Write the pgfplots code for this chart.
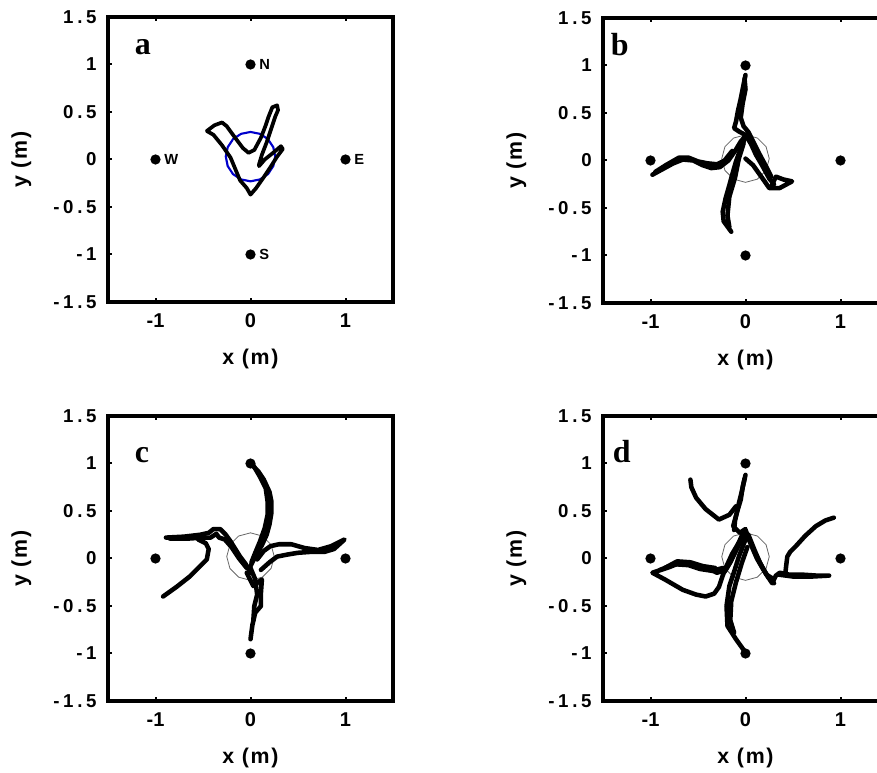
\documentclass[border=0pt]{standalone}
\usepackage{pgfplots}
\pgfplotsset{compat=1.18}
\usepackage{fontspec}
\setmainfont{Liberation Sans}
\newfontfamily\seriffont{Liberation Serif}
\newfontfamily\yfont[LetterSpace=20]{Liberation Sans}
\newfontfamily\lfont[LetterSpace=8]{Liberation Sans}
\pgfplotsset{
  panel/.style={
    scale only axis, width=213.75pt, height=213.75pt,
    xmin=-1.5, xmax=1.5, ymin=-1.5, ymax=1.5,
    xtick={-1,0,1}, ytick={-1.5,-1,-0.5,0,0.5,1,1.5},
    xtick pos=both, xticklabel pos=lower, ytick pos=left,
    tick align=inside, major tick length=3pt,
    tick style={black, line width=1.5pt},
    axis line style={black, line width=2.5pt},
    /pgf/number format/assume math mode=true,
    xticklabel style={font=\bfseries\fontsize{15}{17}\selectfont, yshift=-5pt},
    yticklabel style={font=\yfont\bfseries\fontsize{14}{15}\selectfont, xshift=-5pt},
    label style={font=\lfont\bfseries\fontsize{16}{18}\selectfont},
    xlabel={x (m)}, ylabel={y (m)},
    xlabel style={at={(axis description cs:0.5,-0.2)}, anchor=center},
    ylabel style={at={(axis description cs:-0.304,0.5)}, anchor=center},
    clip=false,
  },
  traj/.style={black, line width=3.4pt, line join=round, line cap=round},
  ring/.style={gray!80!black, line width=0.6pt},
}
\tikzset{
  letter/.style={font=\seriffont\bfseries\fontsize{24}{24}\selectfont, anchor=base west, inner sep=0pt},
  dirl/.style={font=\bfseries\fontsize{11}{12}\selectfont, anchor=west, inner sep=0pt},
}
\begin{document}
\begin{tikzpicture}
\useasboundingbox (0,0) rectangle (657.75pt,579.75pt);
\clip (0,0) rectangle (657.75pt,579.75pt);
% ---------------- panel a ----------------
\begin{axis}[panel, at={(81pt,353.25pt)}, anchor=south west]
\addplot[blue!80!black, line width=1.6pt] coordinates {(0.26,0.03)(0.240,0.1295)(0.184,0.214)(0.0995,0.27)(0,0.29)(-0.0995,0.27)(-0.184,0.214)(-0.240,0.1295)(-0.26,0.03)(-0.240,-0.0695)(-0.184,-0.154)(-0.0995,-0.21)(0,-0.23)(0.0995,-0.21)(0.184,-0.154)(0.240,-0.0695)(0.26,0.03)};
\addplot[traj, line width=2.8pt] coordinates {(-0.46,0.30)(-0.38,0.36)(-0.30,0.39)(-0.25,0.35)(-0.17,0.24)(-0.08,0.12)(-0.02,0.07)(0.04,0.10)(0.11,0.23)(0.16,0.36)(0.19,0.45)(0.23,0.55)(0.28,0.57)(0.29,0.52)(0.26,0.45)(0.22,0.33)(0.17,0.18)(0.12,0.05)(0.09,-0.05)(0.09,-0.07)(0.15,0.0)(0.25,0.08)(0.32,0.14)(0.34,0.11)(0.28,0.03)(0.21,-0.08)(0.13,-0.2)(0.06,-0.3)(0.0,-0.37)(-0.04,-0.3)(-0.11,-0.22)(-0.16,-0.1)(-0.21,0.02)(-0.30,0.15)(-0.39,0.26)(-0.46,0.30)};
\addplot[only marks, mark=*, mark size=3.6pt, black] coordinates {(0,1)(0,-1)(1,0)(-1,0)};
\node[letter] at (axis cs:-1.22,1.1) {a};
\node[dirl] at (axis cs:0.09,1) {N};
\node[dirl] at (axis cs:0.09,-1) {S};
\node[dirl] at (axis cs:1.09,0) {E};
\node[dirl] at (axis cs:-0.91,0) {W};
\end{axis}
% ---------------- panel b ----------------
\begin{axis}[panel, at={(452.25pt,352.5pt)}, anchor=south west]
\addplot[ring] coordinates {(0.25,0.02)(0.2165,0.145)(0.125,0.2365)(0,0.27)(-0.125,0.2365)(-0.2165,0.145)(-0.25,0.02)(-0.2165,-0.105)(-0.125,-0.1965)(0,-0.23)(0.125,-0.1965)(0.2165,-0.105)(0.25,0.02)};
\addplot[traj] coordinates {(0.0,0.9)(-0.02,0.8)(-0.05,0.65)(-0.08,0.52)(-0.1,0.41)(-0.12,0.34)(-0.06,0.3)(0.0,0.27)(0.06,0.17)(0.11,0.06)(0.18,-0.06)(0.25,-0.19)(0.30,-0.25)};
\addplot[traj] coordinates {(-0.01,0.86)(0.0,0.75)(-0.03,0.6)(-0.05,0.45)(-0.02,0.36)(0.03,0.3)(0.08,0.2)(0.14,0.08)(0.21,-0.05)(0.27,-0.17)};
\addplot[traj] coordinates {(-0.98,-0.15)(-0.87,-0.09)(-0.76,-0.03)(-0.66,0.01)(-0.55,0.0)(-0.45,-0.05)(-0.36,-0.08)(-0.27,-0.07)(-0.18,0.0)(-0.11,0.1)(-0.05,0.2)(0.0,0.26)};
\addplot[traj] coordinates {(-0.95,-0.12)(-0.84,-0.05)(-0.7,0.03)(-0.6,0.03)(-0.5,-0.01)(-0.4,-0.03)(-0.3,-0.04)(-0.22,0.0)(-0.14,0.1)};
\addplot[traj] coordinates {(0.0,0.02)(0.08,-0.05)(0.18,-0.19)(0.25,-0.29)(0.36,-0.29)(0.49,-0.22)(0.40,-0.2)(0.32,-0.17)(0.28,-0.25)};
\addplot[traj] coordinates {(0.0,0.25)(-0.06,0.1)(-0.10,-0.01)(-0.14,-0.15)(-0.17,-0.26)(-0.21,-0.4)(-0.24,-0.54)(-0.23,-0.64)(-0.15,-0.75)};
\addplot[traj] coordinates {(-0.02,0.18)(-0.07,0.02)(-0.11,-0.18)(-0.17,-0.38)(-0.19,-0.58)(-0.17,-0.7)};
\addplot[only marks, mark=*, mark size=3.6pt, black] coordinates {(0,1)(0,-1)(1,0)(-1,0)};
\node[letter] at (axis cs:-1.42,1.1) {b};
\end{axis}
% ---------------- panel c ----------------
\begin{axis}[panel, at={(81pt,54pt)}, anchor=south west]
\addplot[ring] coordinates {(0.25,0.02)(0.2165,0.145)(0.125,0.2365)(0,0.27)(-0.125,0.2365)(-0.2165,0.145)(-0.25,0.02)(-0.2165,-0.105)(-0.125,-0.1965)(0,-0.23)(0.125,-0.1965)(0.2165,-0.105)(0.25,0.02)};
\addplot[traj] coordinates {(0.0,1.0)(0.08,0.92)(0.14,0.83)(0.2,0.7)(0.22,0.6)(0.22,0.48)(0.2,0.36)(0.17,0.25)(0.12,0.14)(0.06,0.04)(0.0,-0.08)};
\addplot[traj] coordinates {(0.03,0.98)(0.1,0.86)(0.16,0.74)(0.18,0.6)(0.18,0.46)(0.15,0.32)(0.1,0.18)(0.05,0.06)(0.01,-0.04)};
\addplot[traj] coordinates {(-0.89,0.22)(-0.7,0.23)(-0.53,0.25)(-0.44,0.27)(-0.39,0.31)(-0.32,0.31)(-0.26,0.25)(-0.21,0.18)(-0.16,0.1)(-0.11,0.02)(-0.05,-0.06)(0.0,-0.15)};
\addplot[traj] coordinates {(-0.85,0.21)(-0.65,0.21)(-0.5,0.22)(-0.42,0.22)(-0.36,0.26)(-0.33,0.22)(-0.27,0.2)(-0.2,0.12)(-0.12,0.0)(-0.04,-0.1)};
\addplot[traj] coordinates {(-0.55,0.2)(-0.47,0.16)(-0.44,0.1)(-0.46,-0.01)(-0.55,-0.1)(-0.64,-0.19)(-0.78,-0.3)(-0.92,-0.4)};
\addplot[traj] coordinates {(0.07,-0.01)(0.14,0.08)(0.21,0.13)(0.3,0.15)(0.43,0.15)(0.57,0.11)(0.71,0.09)(0.85,0.13)(0.99,0.2)(0.88,0.1)(0.78,0.07)(0.64,0.07)(0.5,0.06)(0.38,0.04)(0.28,0.02)(0.2,-0.04)(0.11,-0.12)};
\addplot[traj] coordinates {(-0.04,-0.15)(0.03,-0.29)(0.12,-0.22)(0.11,-0.36)(0.11,-0.5)(0.05,-0.57)(0.02,-0.7)(0.0,-0.85)};
\addplot[traj] coordinates {(0.0,-0.1)(0.05,-0.22)(0.07,-0.38)(0.04,-0.5)(0.03,-0.65)};
\addplot[only marks, mark=*, mark size=3.6pt, black] coordinates {(0,1)(0,-1)(1,0)(-1,0)};
\node[letter] at (axis cs:-1.22,1.01) {c};
\end{axis}
% ---------------- panel d ----------------
\begin{axis}[panel, at={(452.25pt,54pt)}, anchor=south west]
\addplot[ring] coordinates {(0.25,0.02)(0.2165,0.145)(0.125,0.2365)(0,0.27)(-0.125,0.2365)(-0.2165,0.145)(-0.25,0.02)(-0.2165,-0.105)(-0.125,-0.1965)(0,-0.23)(0.125,-0.1965)(0.2165,-0.105)(0.25,0.02)};
\addplot[traj] coordinates {(0.0,0.88)(-0.03,0.75)(-0.05,0.62)(-0.08,0.52)(-0.1,0.45)(-0.13,0.34)(-0.06,0.27)(0.0,0.31)(-0.02,0.22)};
\addplot[traj] coordinates {(-0.01,0.84)(-0.04,0.7)(-0.07,0.58)(-0.11,0.4)(-0.12,0.3)};
\addplot[traj] coordinates {(-0.58,0.83)(-0.57,0.75)(-0.52,0.64)(-0.42,0.52)(-0.28,0.41)(-0.17,0.46)(-0.1,0.55)};
\addplot[traj] coordinates {(0.0,0.28)(0.06,0.14)(0.12,0.0)(0.19,-0.12)(0.28,-0.26)(0.32,-0.18)(0.36,-0.15)(0.46,-0.17)(0.6,-0.17)(0.75,-0.18)(0.88,-0.18)(0.7,-0.19)(0.5,-0.19)(0.35,-0.17)};
\addplot[traj] coordinates {(0.03,0.25)(0.09,0.1)(0.15,-0.04)(0.22,-0.17)(0.3,-0.22)};
\addplot[traj] coordinates {(0.0,0.3)(0.05,0.18)(0.1,0.06)(0.17,-0.08)(0.24,-0.2)(0.3,-0.26)};
\addplot[traj] coordinates {(-0.03,0.26)(-0.1,0.1)(-0.16,-0.04)(-0.22,-0.14)};
\addplot[traj] coordinates {(0.42,-0.15)(0.43,-0.06)(0.44,0.02)(0.47,0.07)(0.53,0.13)(0.63,0.24)(0.74,0.34)(0.84,0.4)(0.93,0.43)};
\addplot[traj] coordinates {(0.0,0.28)(-0.08,0.12)(-0.15,-0.02)(-0.21,-0.12)(-0.3,-0.15)(-0.4,-0.1)(-0.49,-0.08)(-0.6,-0.05)(-0.7,-0.05)(-0.8,-0.09)(-0.98,-0.15)(-0.85,-0.22)(-0.66,-0.33)(-0.52,-0.38)(-0.42,-0.40)(-0.33,-0.37)(-0.28,-0.3)(-0.24,-0.18)(-0.2,-0.08)(-0.14,0.05)(-0.08,0.15)(-0.03,0.23)};
\addplot[traj] coordinates {(-0.9,-0.12)(-0.75,-0.06)(-0.6,-0.07)(-0.48,-0.11)(-0.35,-0.13)(-0.24,-0.1)};
\addplot[traj] coordinates {(-0.85,-0.1)(-0.72,-0.03)(-0.58,-0.04)(-0.45,-0.08)(-0.32,-0.1)};
\addplot[traj] coordinates {(0.0,0.2)(-0.07,0.02)(-0.12,-0.14)(-0.17,-0.29)(-0.2,-0.5)(-0.19,-0.71)(-0.1,-0.85)(0.0,-0.99)};
\addplot[traj] coordinates {(0.02,0.12)(-0.04,-0.05)(-0.1,-0.25)(-0.15,-0.45)(-0.16,-0.65)(-0.12,-0.78)};
\addplot[only marks, mark=*, mark size=3.6pt, black] coordinates {(0,1)(0,-1)(1,0)(-1,0)};
\node[letter] at (axis cs:-1.4,1.01) {d};
\end{axis}
\end{tikzpicture}
\end{document}
